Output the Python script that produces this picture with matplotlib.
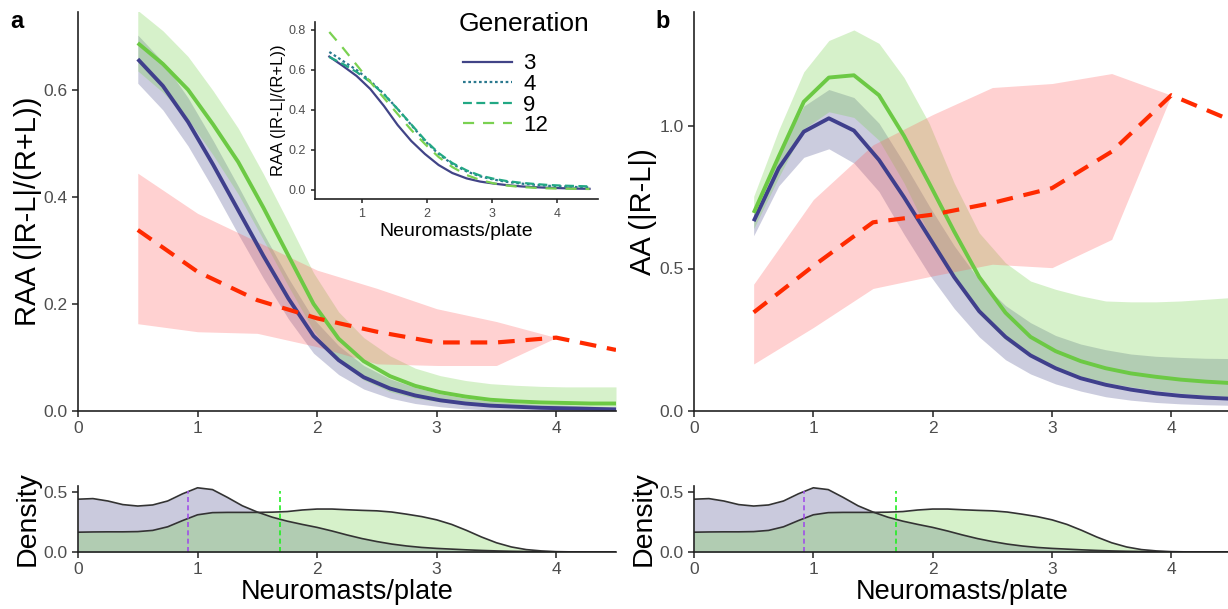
import matplotlib
matplotlib.use('Agg')
import matplotlib.pyplot as plt

plt.rcParams.update({
    'font.family': ['Liberation Sans', 'DejaVu Sans'],
    'axes.linewidth': 1.2,
    'axes.edgecolor': '#222222',
})

# common x grid of the fitted curves
x_fit = [0.5, 0.71, 0.92, 1.13, 1.34, 1.55, 1.76, 1.97, 2.18, 2.39,
         2.61, 2.82, 3.03, 3.24, 3.45, 3.66, 3.87, 4.08, 4.29, 4.5]

# panel a: RAA
raa_g3 = [0.657, 0.607, 0.54, 0.46, 0.375, 0.29, 0.21, 0.14, 0.095, 0.063,
          0.042, 0.029, 0.02, 0.014, 0.01, 0.008, 0.006, 0.005, 0.004, 0.003]
raa_g3_hi = [0.702, 0.652, 0.585, 0.505, 0.42, 0.332, 0.248, 0.172, 0.122, 0.085,
             0.06, 0.044, 0.032, 0.024, 0.018, 0.015, 0.012, 0.011, 0.009, 0.008]
raa_g3_lo = [0.612, 0.562, 0.495, 0.415, 0.33, 0.248, 0.172, 0.108, 0.068, 0.041,
             0.024, 0.014, 0.008, 0.004, 0.002, 0.001, 0.0, 0.0, 0.0, 0.0]
raa_g12 = [0.687, 0.648, 0.60, 0.535, 0.465, 0.38, 0.29, 0.20, 0.135, 0.093,
           0.065, 0.047, 0.035, 0.027, 0.021, 0.018, 0.016, 0.015, 0.014, 0.014]
raa_g12_hi = [0.748, 0.71, 0.662, 0.598, 0.528, 0.443, 0.352, 0.258, 0.185, 0.137,
              0.103, 0.08, 0.066, 0.057, 0.051, 0.048, 0.046, 0.045, 0.045, 0.045]
raa_g12_lo = [0.635, 0.595, 0.545, 0.478, 0.405, 0.32, 0.233, 0.15, 0.093, 0.058,
              0.036, 0.024, 0.017, 0.012, 0.009, 0.008, 0.008, 0.008, 0.008, 0.008]

# observed values (red dashed)
x_obs = [0.5, 1.0, 1.5, 2.0, 2.5, 3.0, 3.5, 4.0, 4.5]
raa_obs = [0.338, 0.26, 0.207, 0.173, 0.148, 0.128, 0.128, 0.137, 0.114]
raa_obs_hi = [0.444, 0.369, 0.316, 0.263, 0.229, 0.191, 0.167, 0.137, 0.114]
raa_obs_lo = [0.163, 0.148, 0.145, 0.12, 0.088, 0.085, 0.085, 0.137, 0.114]

# panel b: AA
aa_g3 = [0.666, 0.852, 0.98, 1.027, 0.984, 0.881, 0.75, 0.61, 0.47, 0.35,
         0.26, 0.195, 0.15, 0.115, 0.092, 0.075, 0.062, 0.053, 0.047, 0.043]
aa_g3_hi = [0.69, 0.90, 1.07, 1.128, 1.10, 1.01, 0.87, 0.72, 0.58, 0.46,
            0.37, 0.31, 0.265, 0.235, 0.215, 0.20, 0.192, 0.188, 0.185, 0.184]
aa_g3_lo = [0.615, 0.79, 0.89, 0.92, 0.87, 0.77, 0.62, 0.48, 0.36, 0.26,
            0.18, 0.13, 0.095, 0.07, 0.05, 0.038, 0.03, 0.025, 0.022, 0.02]
aa_g12 = [0.695, 0.893, 1.085, 1.17, 1.178, 1.108, 0.965, 0.80, 0.63, 0.47,
          0.345, 0.26, 0.21, 0.175, 0.15, 0.132, 0.12, 0.11, 0.103, 0.098]
aa_g12_hi = [0.753, 0.986, 1.19, 1.30, 1.337, 1.29, 1.17, 1.01, 0.80, 0.625,
             0.52, 0.456, 0.427, 0.404, 0.386, 0.383, 0.383, 0.386, 0.392, 0.398]
aa_g12_lo = [0.64, 0.82, 0.99, 1.05, 1.03, 0.95, 0.80, 0.62, 0.46, 0.34,
             0.25, 0.19, 0.15, 0.12, 0.10, 0.085, 0.072, 0.062, 0.055, 0.05]

aa_obs = [0.346, 0.509, 0.662, 0.689, 0.73, 0.782, 0.91, 1.108, 1.02]
aa_obs_hi = [0.445, 0.742, 0.934, 1.04, 1.135, 1.149, 1.184, 1.108, 1.02]
aa_obs_lo = [0.165, 0.293, 0.43, 0.474, 0.515, 0.503, 0.602, 1.108, 1.02]

# inset: RAA by generation
generations = ['3', '4', '9', '12']
inset_curves = [
    [0.667, 0.62, 0.57, 0.505, 0.42, 0.325, 0.245, 0.18, 0.125, 0.085,
     0.058, 0.042, 0.032, 0.024, 0.018, 0.014, 0.011, 0.009, 0.007, 0.006],
    [0.69, 0.645, 0.6, 0.545, 0.48, 0.405, 0.325, 0.245, 0.18, 0.13,
     0.093, 0.068, 0.052, 0.04, 0.032, 0.026, 0.021, 0.018, 0.015, 0.013],
    [0.665, 0.63, 0.59, 0.54, 0.478, 0.405, 0.328, 0.25, 0.185, 0.135,
     0.098, 0.072, 0.056, 0.044, 0.036, 0.03, 0.025, 0.022, 0.02, 0.018],
    [0.79, 0.71, 0.625, 0.54, 0.46, 0.38, 0.30, 0.23, 0.165, 0.115,
     0.075, 0.05, 0.033, 0.022, 0.015, 0.011, 0.008, 0.007, 0.006, 0.005],
]

# density of neuromasts/plate
x_dens = [0.0, 0.125, 0.25, 0.375, 0.5, 0.625, 0.75, 0.875, 1.0, 1.125,
          1.25, 1.375, 1.5, 1.625, 1.75, 1.875, 2.0, 2.125, 2.25, 2.375,
          2.5, 2.625, 2.75, 2.875, 3.0, 3.125, 3.25, 3.375, 3.5, 3.625,
          3.75, 3.875, 4.0, 4.125, 4.25, 4.375, 4.5]
dens_g3 = [0.44, 0.445, 0.425, 0.395, 0.383, 0.392, 0.425, 0.485, 0.535, 0.52,
           0.455, 0.385, 0.333, 0.29, 0.257, 0.23, 0.205, 0.175, 0.142, 0.112,
           0.087, 0.066, 0.05, 0.038, 0.03, 0.024, 0.018, 0.013, 0.009, 0.006,
           0.004, 0.002, 0.001, 0.0, 0.0, 0.0, 0.0]
dens_g12 = [0.165, 0.167, 0.168, 0.168, 0.17, 0.18, 0.21, 0.262, 0.31, 0.328,
            0.33, 0.33, 0.33, 0.332, 0.337, 0.35, 0.358, 0.358, 0.352, 0.347,
            0.343, 0.333, 0.315, 0.295, 0.268, 0.23, 0.18, 0.125, 0.077, 0.042,
            0.02, 0.009, 0.003, 0.001, 0.0, 0.0, 0.0]
mean_g3 = 0.92
mean_g12 = 1.69

NAVY = '#3f3f8c'
GREEN = '#6cc944'
RED = '#ff2a00'
inset_colors = ['#414487', '#2a788e', '#22a884', '#7ad151']
inset_styles = ['-', (0, (1.2, 1.2)), (0, (4, 2)), (0, (5, 4))]
TICK_GRAY = '#4d4d4d'

W, H = 1228, 609


def box(l, r, t, b):
    return [l / W, 1 - b / H, (r - l) / W, (b - t) / H]


def style_axes(ax, labelsize=12.5):
    for side in ('top', 'right'):
        ax.spines[side].set_visible(False)
    ax.tick_params(colors='#222222', labelcolor=TICK_GRAY, labelsize=labelsize,
                   length=4, width=1.1)


fig = plt.figure(figsize=(W / 100, H / 100), dpi=100)

ax_a = fig.add_axes(box(78, 616, 12, 411))
ax_b = fig.add_axes(box(694, 1231, 12, 411))
ax_da = fig.add_axes(box(78, 616, 486, 552))
ax_db = fig.add_axes(box(694, 1231, 486, 552))
ax_in = fig.add_axes(box(315, 598, 22, 199))


def draw_main(ax, g3, g3_lo, g3_hi, g12, g12_lo, g12_hi, obs, obs_lo, obs_hi):
    ax.fill_between(x_fit, g3_lo, g3_hi, color='#414487', alpha=0.27, lw=0)
    ax.fill_between(x_fit, g12_lo, g12_hi, color='#7ad151', alpha=0.3, lw=0)
    ax.fill_between(x_obs, obs_lo, obs_hi, color='#ff5a5a', alpha=0.28, lw=0)
    ax.plot(x_fit, g3, color=NAVY, lw=2.8, solid_capstyle='butt')
    ax.plot(x_fit, g12, color=GREEN, lw=2.8, solid_capstyle='butt')
    ax.plot(x_obs, obs, color=RED, lw=3.0, dashes=(4, 2.6))
    ax.set_xlim(0, 4.5)
    ax.set_xticks([0, 1, 2, 3, 4])
    style_axes(ax)


draw_main(ax_a, raa_g3, raa_g3_lo, raa_g3_hi, raa_g12, raa_g12_lo, raa_g12_hi,
          raa_obs, raa_obs_lo, raa_obs_hi)
ax_a.set_ylim(0, 0.745)
ax_a.set_yticks([0.0, 0.2, 0.4, 0.6])
ax_a.set_ylabel('RAA (|R-L|/(R+L))', fontsize=21, labelpad=1)

draw_main(ax_b, aa_g3, aa_g3_lo, aa_g3_hi, aa_g12, aa_g12_lo, aa_g12_hi,
          aa_obs, aa_obs_lo, aa_obs_hi)
ax_b.set_ylim(0, 1.40)
ax_b.set_yticks([0.0, 0.5, 1.0])
ax_b.set_ylabel('AA (|R-L|)', fontsize=21, labelpad=2)

for ax in (ax_a, ax_b):
    ax.set_yticklabels([f'{t:.1f}' for t in ax.get_yticks()])

# density panels
for ax in (ax_da, ax_db):
    ax.fill_between(x_dens, 0, dens_g3, color='#414487', alpha=0.28, lw=0)
    ax.fill_between(x_dens, 0, dens_g12, color='#7ad151', alpha=0.3, lw=0)
    ax.plot(x_dens, dens_g3, color='#333333', lw=1.2)
    ax.plot(x_dens, dens_g12, color='#333333', lw=1.2)
    ax.plot([mean_g3, mean_g3], [0, 0.51], color='#a050e8', lw=1.2, dashes=(3, 2))
    ax.plot([mean_g12, mean_g12], [0, 0.51], color='#22ee22', lw=1.2, dashes=(3, 2))
    ax.set_xlim(0, 4.5)
    ax.set_ylim(0, 0.55)
    ax.set_xticks([0, 1, 2, 3, 4])
    ax.set_yticks([0.0, 0.5])
    ax.set_yticklabels(['0.0', '0.5'])
    ax.set_xlabel('Neuromasts/plate', fontsize=19.5, labelpad=1)
    ax.set_ylabel('Density', fontsize=20.5, labelpad=2)
    style_axes(ax)

# inset with all generations
handles = []
for gen, vals, col, ls in zip(generations, inset_curves, inset_colors, inset_styles):
    ln, = ax_in.plot(x_fit, vals, color=col, lw=1.6, linestyle=ls, label=gen)
    handles.append(ln)
ax_in.set_xlim(0.28, 4.63)
ax_in.set_ylim(-0.045, 0.84)
ax_in.set_xticks([1, 2, 3, 4])
ax_in.set_yticks([0.0, 0.2, 0.4, 0.6, 0.8])
ax_in.set_yticklabels(['0.0', '0.2', '0.4', '0.6', '0.8'])
ax_in.patch.set_alpha(0)
style_axes(ax_in, labelsize=9)
ax_in.tick_params(length=3)
ax_in.set_xlabel('Neuromasts/plate', fontsize=14, labelpad=2)
ax_in.set_ylabel('RAA (|R-L|/(R+L))', fontsize=12, labelpad=2)

fig.text(459 / W, 1 - 24 / H, 'Generation', fontsize=19, va='center', ha='left')
fig.legend(handles=handles, loc='upper left', bbox_to_anchor=(459 / W, 1 - 49 / H),
           frameon=False, fontsize=16, handlelength=2.2, handletextpad=0.5,
           labelspacing=-0.02, borderpad=0.2, borderaxespad=0)

fig.text(10 / W, 1 - 28 / H, 'a', fontsize=17, fontweight='bold')
fig.text(655 / W, 1 - 28 / H, 'b', fontsize=17, fontweight='bold')

fig.savefig('out.png', dpi=100)
